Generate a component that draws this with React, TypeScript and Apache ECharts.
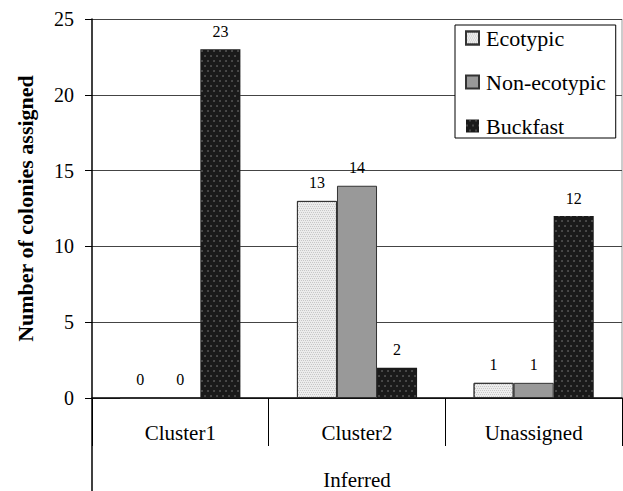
import React, { useEffect, useRef } from "react";
import * as echarts from "echarts";

const categories = ["Cluster1", "Cluster2", "Unassigned"];
const ecotypic = [0, 13, 1];
const nonEcotypic = [0, 14, 1];
const buckfast = [23, 2, 12];
const yTicks = { min: 0, max: 25, interval: 5 };

const SERIF = "Liberation Serif";

export default function App() {
  const ref = useRef<HTMLDivElement>(null);
  useEffect(() => {
    if (!ref.current) return;
    const chart = echarts.init(ref.current, null, { renderer: "svg" });
    const label = {
      show: true,
      position: "top",
      distance: 10,
      fontFamily: SERIF,
      fontSize: 16,
      color: "#000",
    };
    chart.setOption({
      animation: false,
      backgroundColor: "#fff",
      textStyle: { fontFamily: SERIF },
      grid: { left: 92, right: 1, top: 19, bottom: 93, containLabel: false, outerBoundsMode: "none" },
      legend: {
        orient: "vertical",
        left: 455,
        top: 25,
        padding: [2, 10, 1, 10],
        itemGap: 22,
        itemWidth: 13,
        itemHeight: 13,
        icon: "rect",
        backgroundColor: "#fff",
        borderColor: "#000",
        borderWidth: 1,
        textStyle: { fontFamily: SERIF, fontSize: 22, color: "#000", padding: [0, 0, 0, 2] },
        data: ["Ecotypic", "Non-ecotypic", "Buckfast"],
      },
      xAxis: {
        type: "category",
        data: categories,
        name: "Inferred",
        nameLocation: "middle",
        nameGap: 71,
        nameTextStyle: { fontFamily: SERIF, fontSize: 21, color: "#000" },
        axisLine: { lineStyle: { color: "#000", width: 1.5 } },
        axisTick: { show: true, length: 48, interval: 0, lineStyle: { color: "#000", width: 1 } },
        axisLabel: { margin: 24, fontFamily: SERIF, fontSize: 21, color: "#000" },
        splitLine: { show: false },
      },
      yAxis: {
        type: "value",
        min: yTicks.min,
        max: yTicks.max,
        interval: yTicks.interval,
        name: "Number of colonies assigned",
        nameLocation: "middle",
        nameGap: 56,
        nameTextStyle: { fontFamily: SERIF, fontSize: 22, fontWeight: "bold", color: "#000" },
        axisLine: { show: true, lineStyle: { color: "#000", width: 1.5 } },
        axisTick: { show: true, length: 7, lineStyle: { color: "#000" } },
        axisLabel: { margin: 18, fontFamily: SERIF, fontSize: 20, color: "#000" },
        splitLine: { show: true, lineStyle: { color: "#444", width: 1.2 } },
      },
      graphic: [
        {
          type: "line",
          shape: { x1: 92, y1: 398, x2: 92, y2: 491 },
          style: { stroke: "#000", lineWidth: 1.5 },
        },
        {
          type: "line",
          shape: { x1: 622, y1: 19, x2: 622, y2: 398 },
          style: { stroke: "#999", lineWidth: 1 },
        },
      ],
      series: [
        {
          name: "Ecotypic",
          type: "bar",
          data: ecotypic,
          barGap: "0%",
          barCategoryGap: "32%",
          itemStyle: {
            color: "#ececec",
            borderColor: "#333",
            borderWidth: 1,
            decal: {
              symbol: "rect",
              symbolSize: 1,
              color: "#c8c8c8",
              dashArrayX: [[1, 1], [0, 1, 1, 0]],
              dashArrayY: [1, 1],
            },
          },
          label,
        },
        {
          name: "Non-ecotypic",
          type: "bar",
          data: nonEcotypic,
          itemStyle: { color: "#999999", borderColor: "#333", borderWidth: 1 },
          label,
        },
        {
          name: "Buckfast",
          type: "bar",
          data: buckfast,
          itemStyle: {
            color: "#1a1a1a",
            decal: {
              symbol: "circle",
              symbolSize: 0.7,
              color: "#8a8a8a",
              dashArrayX: [[2, 4], [0, 3, 2, 1]],
              dashArrayY: [2, 2.5],
            },
          },
          label,
        },
      ],
    });
    return () => chart.dispose();
  }, []);
  return <div ref={ref} style={{ width: 623, height: 491, position: "absolute", left: 0, top: 0 }} />;
}
